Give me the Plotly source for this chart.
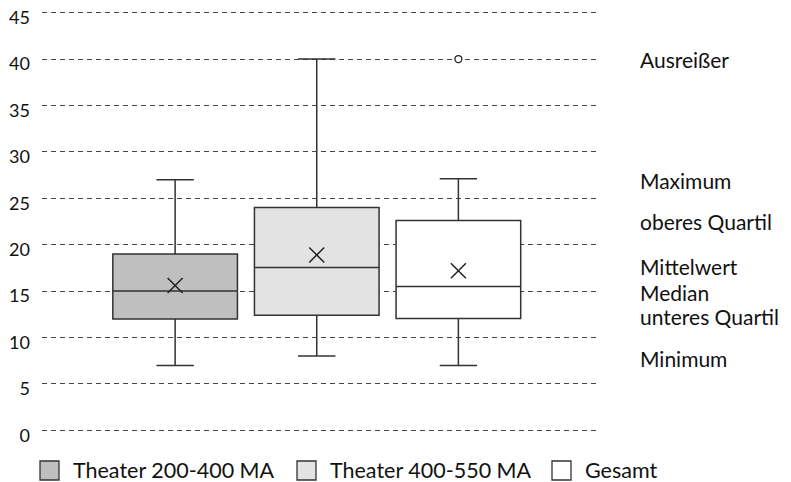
import plotly.graph_objects as go

# Data
groups = ["Theater 200-400 MA", "Theater 400-550 MA", "Gesamt"]
minimum = [7.0, 8.0, 7.0]
q1 = [12.0, 12.4, 12.05]
median = [15.0, 17.55, 15.5]
q3 = [19.0, 24.0, 22.6]
maximum = [27.0, 40.0, 27.1]
means = [15.6, 18.9, 17.2]
outlier_group = [2]
outlier_value = [40.0]
fills = ["#bfbfbf", "#e3e3e3", "#ffffff"]

label_texts = ["Ausreißer", "Maximum", "oberes Quartil", "Mittelwert", "Median", "unteres Quartil", "Minimum"]
label_y = [39.9, 26.9, 22.45, 17.6, 14.9, 12.3, 7.7]

y_ticks = [0, 5, 10, 15, 20, 25, 30, 35, 40, 45]

FONT = "Lato"
LINE = "#333333"
TXT = "#111111"

fig = go.Figure()
for i, g in enumerate(groups):
    fig.add_trace(go.Box(
        x=[i], q1=[q1[i]], median=[median[i]], q3=[q3[i]],
        lowerfence=[minimum[i]], upperfence=[maximum[i]],
        name=g, width=0.88, whiskerwidth=0.3,
        fillcolor=fills[i], line=dict(color=LINE, width=1.5),
        boxpoints=False, hoverinfo="skip", showlegend=False,
    ))

fig.add_trace(go.Scatter(
    x=list(range(len(groups))), y=means, mode="markers",
    marker=dict(symbol="x-thin", size=15, line=dict(color="#222222", width=1.5)),
    showlegend=False, hoverinfo="skip",
))
fig.add_trace(go.Scatter(
    x=outlier_group, y=outlier_value, mode="markers",
    marker=dict(symbol="circle", size=7, color="white", line=dict(color="#222222", width=1.3)),
    showlegend=False, hoverinfo="skip",
))

# Right-hand explanation labels
for t, yv in zip(label_texts, label_y):
    fig.add_annotation(x=1.0681, xref="paper", y=yv, yref="y", text=t,
                       showarrow=False, xanchor="left", yanchor="middle",
                       font=dict(family=FONT, size=21, color=TXT))

# Legend drawn below the plot (swatch + label per group)
plot_w = 558.0
plot_h = 427.0
def px_x(sx):
    return (sx - 42) / plot_w
def px_y(sy):
    return (435 - sy) / plot_h

swatch_left = [40, 297, 552]
for i, g in enumerate(groups):
    x0 = swatch_left[i]
    fig.add_shape(type="rect", xref="paper", yref="paper",
                  x0=px_x(x0), x1=px_x(x0 + 19), y0=px_y(461), y1=px_y(480),
                  fillcolor=fills[i], line=dict(color=LINE, width=1.3))
    fig.add_annotation(x=px_x(x0 + 31), xref="paper", y=px_y(470), yref="paper",
                       text=g, showarrow=False, xanchor="left", yanchor="middle",
                       font=dict(family=FONT, size=21.5, color=TXT))

# The page adds an 8px body margin, so the figure is laid out 8px up/left.
fig.update_layout(
    width=791, height=482,
    margin=dict(l=34, r=199, t=0, b=55, autoexpand=False),
    plot_bgcolor="white", paper_bgcolor="white",
    font=dict(family=FONT, size=16, color=TXT),
    showlegend=False,
)
fig.update_xaxes(range=[-0.94, 3.0], showgrid=False, zeroline=False, showticklabels=False,
                 showline=False, ticks="")
fig.update_yaxes(range=[-0.5, 45.5], tickvals=y_ticks, showgrid=True, gridcolor="#444444",
                 griddash="5px,4px", gridwidth=1, zeroline=False, showline=False, ticks="",
                 ticklabelstandoff=11, ticklabeloverflow="allow", ticklabelshift=5,
                 tickfont=dict(family=FONT, size=18, color=TXT))

fig.write_html("out.html")
